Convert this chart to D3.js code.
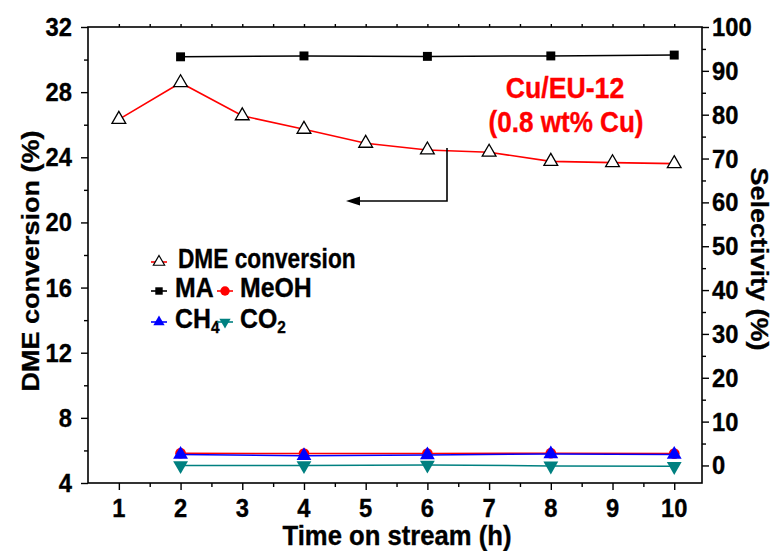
<!DOCTYPE html>
<html>
<head>
<meta charset="utf-8">
<script src="https://cdn.jsdelivr.net/npm/d3@7/dist/d3.min.js"></script>
<style>
  html, body { margin: 0; padding: 0; background: #fff; }
  svg { display: block; }
  text { font-family: "Liberation Sans", Arial, sans-serif; font-weight: bold; fill: #000; }
</style>
</head>
<body>
<svg id="chart" width="783" height="551"></svg>
<script>
// Time on stream (h)
const timeDME = [1, 2, 3, 4, 5, 6, 7, 8, 9, 10];
const dmeConversion = [26.33, 28.58, 26.55, 25.72, 24.86, 24.45, 24.31, 23.75, 23.67, 23.61];

// Product selectivity (%) sampled every 2 h
const timeSel = [2, 4, 6, 8, 10];
const selMA = [93.2, 93.4, 93.3, 93.4, 93.6];
const selMeOH = [2.8, 2.7, 2.7, 2.8, 2.7];
const selCH4 = [2.5, 2.2, 2.4, 2.6, 2.5];
const selCO2 = [0.0, 0.0, 0.1, -0.1, -0.2];

const xTicks = [1, 2, 3, 4, 5, 6, 7, 8, 9, 10];
const leftTicks = [4, 8, 12, 16, 20, 24, 28, 32];
const rightTicks = [0, 10, 20, 30, 40, 50, 60, 70, 80, 90, 100];

const svg = d3.select("#chart");
const L = 88, R = 702, T = 27, B = 483;

const x = d3.scaleLinear().domain([0.5, 10.45]).range([L, R]);
const yL = d3.scaleLinear().domain([4, 32]).range([B, T]);
const yR = d3.scaleLinear().domain([-4, 100]).range([B, T]);

// bold lettering, condensed horizontally by sx
function label(g, txt, px, py, size, sx, anchor, rot, color) {
  const t = g.append("text")
    .attr("transform", `translate(${px},${py}) scale(${sx},1)` + (rot ? ` rotate(${rot})` : ""))
    .attr("text-anchor", anchor || "middle")
    .style("font-size", size + "px")
    .style("stroke", color || "#000").style("stroke-width", 0.35);
  if (color) t.style("fill", color);
  if (typeof txt === "string") t.text(txt);
  else txt.forEach(p => t.append("tspan").attr("baseline-shift", p.sub ? "-30%" : null)
    .style("font-size", p.sub ? (size * 0.62) + "px" : null).text(p.t));
  return t;
}

// ---- axes ----
const axG = svg.append("g");
axG.append("g").attr("transform", `translate(0,${B})`)
  .call(d3.axisBottom(x).tickValues(xTicks).tickSize(7).tickFormat(""));
axG.append("g").attr("transform", `translate(0,${B})`)
  .call(d3.axisBottom(x).tickValues(d3.range(1.5, 10.5, 1)).tickSize(4).tickFormat(""));
axG.append("g").attr("transform", `translate(0,${T})`)
  .call(d3.axisTop(x).tickValues(d3.range(1, 10.5, 0.5)).tickSize(3).tickFormat(""));
axG.append("g").attr("transform", `translate(${L},0)`)
  .call(d3.axisLeft(yL).tickValues(leftTicks).tickSize(7).tickFormat(""));
axG.append("g").attr("transform", `translate(${L},0)`)
  .call(d3.axisLeft(yL).tickValues(d3.range(6, 32, 4)).tickSize(4).tickFormat(""));
axG.append("g").attr("transform", `translate(${R},0)`)
  .call(d3.axisRight(yR).tickValues(rightTicks).tickSize(7).tickFormat(""));
axG.append("g").attr("transform", `translate(${R},0)`)
  .call(d3.axisRight(yR).tickValues(d3.range(5, 100, 10)).tickSize(4).tickFormat(""));
axG.selectAll(".domain").remove();
axG.selectAll(".tick line").attr("stroke", "#000").attr("stroke-width", 1.4);
axG.append("rect").attr("x", L).attr("y", T).attr("width", R - L).attr("height", B - T)
  .attr("fill", "none").attr("stroke", "#000").attr("stroke-width", 1.6);

// tick labels
const tl = svg.append("g");
xTicks.forEach(v => label(tl, String(v), x(v), B + 34, 25, 0.95, "middle"));
leftTicks.forEach(v => label(tl, String(v), 72, yL(v) + 9, 25, 0.95, "end"));
rightTicks.forEach(v => label(tl, String(v), 712, yR(v) + 9, 25, 0.95, "start"));

// axis titles
label(svg, "Time on stream (h)", (L + R) / 2 + 2, 545, 27, 0.95, "middle");
label(svg, "DME conversion (%)", 39, 261, 27, 0.86, "middle", -90);
label(svg, "Selectivity (%)", 751, 259, 27, 0.86, "middle", 90);

// ---- series ----
const plot = svg.append("g");
const tri = d3.symbol().type(d3.symbolTriangle).size(82);
const triBig = d3.symbol().type(d3.symbolTriangle).size(95);
const sq = d3.symbol().type(d3.symbolSquare).size(80);
const circ = d3.symbol().type(d3.symbolCircle).size(90);

function series(xs, ys, yScale, color, lw) {
  const line = d3.line().x((d, i) => x(xs[i])).y(d => yScale(d));
  plot.append("path").datum(ys).attr("d", line)
    .attr("fill", "none").attr("stroke", color).attr("stroke-width", lw);
}
function markers(xs, ys, yScale, sym, fill, stroke, sw, rot) {
  plot.append("g").selectAll("path").data(ys).join("path")
    .attr("d", sym)
    .attr("transform", (d, i) => `translate(${x(xs[i])},${yScale(d)})` + (rot ? ` rotate(${rot})` : ""))
    .attr("fill", fill).attr("stroke", stroke).attr("stroke-width", sw);
}

// DME conversion (left axis)
series(timeDME, dmeConversion, yL, "#ff0000", 1.6);
markers(timeDME, dmeConversion, yL, tri, "#fff", "#000", 1.3);

// Selectivities (right axis)
series(timeSel, selMA, yR, "#000", 1.5);
markers(timeSel, selMA, yR, sq, "#000", "none", 0);

series(timeSel, selCO2, yR, "#008080", 1.5);
markers(timeSel, selCO2, yR, triBig, "#008080", "none", 0, 180);

series(timeSel, selMeOH, yR, "#ff0000", 1.5);
markers(timeSel, selMeOH, yR, circ, "#ff0000", "none", 0);

series(timeSel, selCH4, yR, "#0000ff", 1.5);
markers(timeSel, selCH4, yR, triBig, "#0000ff", "none", 0);

// ---- legend ----
const lg = svg.append("g");
function legendItem(cx, cy, color, sym, fill, stroke, rot) {
  lg.append("line").attr("x1", cx - 8).attr("x2", cx + 8).attr("y1", cy).attr("y2", cy)
    .attr("stroke", color).attr("stroke-width", 1.6);
  lg.append("path").attr("d", sym)
    .attr("transform", `translate(${cx},${cy})` + (rot ? ` rotate(${rot})` : ""))
    .attr("fill", fill).attr("stroke", stroke).attr("stroke-width", stroke === "none" ? 0 : 1.2);
}
const legSym = d3.symbol().type(d3.symbolTriangle).size(55);
const legSq = d3.symbol().type(d3.symbolSquare).size(55);
const legCirc = d3.symbol().type(d3.symbolCircle).size(70);
legendItem(159, 262, "#ff0000", legSym, "#fff", "#000");
label(lg, "DME conversion", 178, 268, 27, 0.84, "start");
legendItem(159, 291, "#000", legSq, "#000", "none");
label(lg, "MA", 175, 297, 27, 0.92, "start");
legendItem(225, 291, "#ff0000", legCirc, "#ff0000", "none");
label(lg, "MeOH", 240, 297, 27, 0.92, "start");
legendItem(159, 322, "#0000ff", legSym, "#0000ff", "none");
label(lg, [{ t: "CH" }, { t: "4", sub: true }], 175, 328, 27, 0.92, "start");
legendItem(225, 322, "#008080", legSym, "#008080", "none", 180);
label(lg, [{ t: "CO" }, { t: "2", sub: true }], 240, 328, 27, 0.92, "start");

// ---- catalyst annotation and arrow to the left axis ----
label(svg, "Cu/EU-12", 565, 98, 29, 0.92, "middle", 0, "#ff0000");
label(svg, "(0.8 wt% Cu)", 566, 132, 29, 0.9, "middle", 0, "#ff0000");
const ann = svg.append("g");
ann.append("path").attr("d", `M447,148 L447,201 L358,201`)
  .attr("fill", "none").attr("stroke", "#000").attr("stroke-width", 1.6);
ann.append("path").attr("d", `M346,201 L360,196.5 L360,205.5 Z`).attr("fill", "#000");
</script>
</body>
</html>
